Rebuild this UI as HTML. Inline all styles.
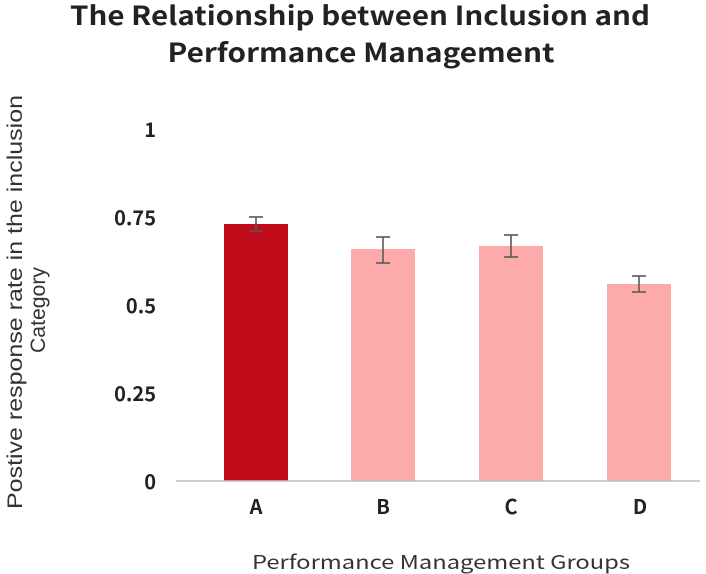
<!DOCTYPE html>
<html><head><meta charset="utf-8"><style>
body{margin:0;background:#fff;}
svg{display:block;font-family:"Noto Sans CJK JP","Liberation Sans",sans-serif;}
</style></head><body>
<svg width="706" height="574" viewBox="0 0 706 574">
<text x="360" y="25" text-anchor="middle" font-size="26" font-weight="bold" fill="#222" textLength="580" lengthAdjust="spacingAndGlyphs">The Relationship between Inclusion and</text>
<text x="361" y="62" text-anchor="middle" font-size="26" font-weight="bold" fill="#222" textLength="387" lengthAdjust="spacingAndGlyphs">Performance Management</text>
<g font-size="20" font-weight="bold" fill="#222" text-anchor="end">
<text x="156" y="137">1</text>
<text x="156" y="225">0.75</text>
<text x="156" y="313">0.5</text>
<text x="156" y="401">0.25</text>
<text x="156" y="489">0</text>
</g>
<rect x="224" y="224" width="64" height="257" fill="#c00b18"/>
<rect x="351" y="249" width="64" height="232" fill="#fdaaab"/>
<rect x="479" y="246" width="64" height="235" fill="#fdaaab"/>
<rect x="607" y="284" width="64" height="197" fill="#fdaaab"/>
<line x1="176" y1="481" x2="700" y2="481" stroke="#bfbfbf" stroke-width="1.5"/>
<g stroke="#595959" stroke-width="1.6">
<line x1="256" y1="217" x2="256" y2="231"/><line x1="249" y1="217" x2="263" y2="217"/><line x1="249" y1="231" x2="263" y2="231"/>
<line x1="383" y1="237" x2="383" y2="263"/><line x1="376" y1="237" x2="390" y2="237"/><line x1="376" y1="263" x2="390" y2="263"/>
<line x1="511" y1="235" x2="511" y2="257"/><line x1="504" y1="235" x2="518" y2="235"/><line x1="504" y1="257" x2="518" y2="257"/>
<line x1="639" y1="276" x2="639" y2="292"/><line x1="632" y1="276" x2="646" y2="276"/><line x1="632" y1="292" x2="646" y2="292"/>
</g>
<g font-size="20" font-weight="bold" fill="#222" text-anchor="middle">
<text x="256" y="514">A</text><text x="383" y="514">B</text><text x="511" y="514">C</text><text x="640" y="514">D</text>
</g>
<text x="441" y="569" text-anchor="middle" font-size="19" fill="#333" textLength="378" lengthAdjust="spacingAndGlyphs">Performance Management Groups</text>
<g transform="rotate(-90)" font-size="21" fill="#333" text-anchor="middle" font-family="Liberation Sans, sans-serif">
<text x="-302" y="22" textLength="414" lengthAdjust="spacingAndGlyphs">Postive response rate in the inclusion</text>
<text x="-310" y="45" textLength="86" lengthAdjust="spacingAndGlyphs">Category</text>
</g>
</svg>
</body></html>
